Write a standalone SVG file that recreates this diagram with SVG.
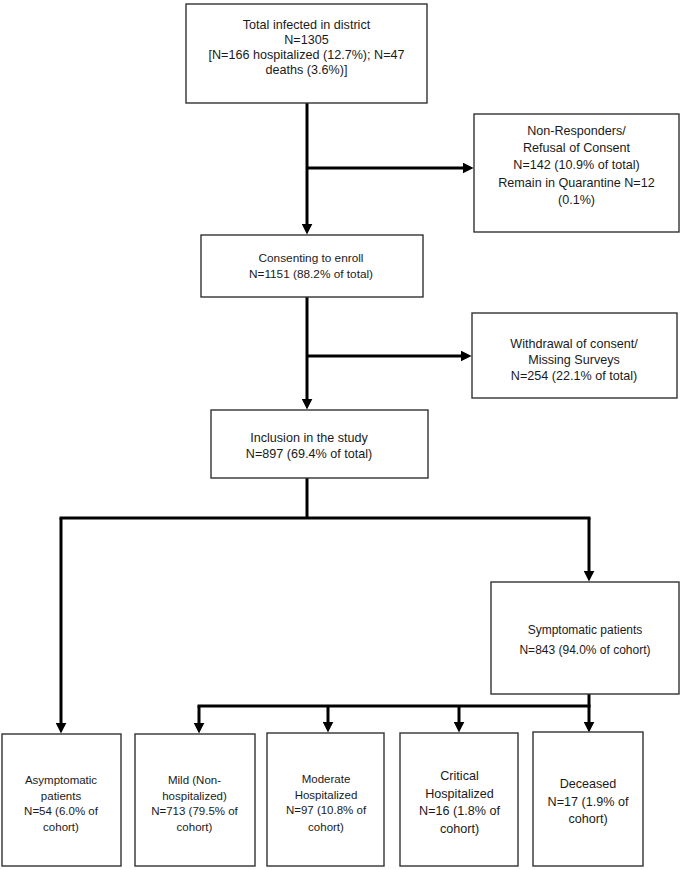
<svg xmlns="http://www.w3.org/2000/svg" width="680" height="870" viewBox="0 0 680 870">
<style>
.box{fill:#ffffff;stroke:#333333;stroke-width:1.4}
.t{font-family:"Liberation Sans",Arial,sans-serif;fill:#1a1a1a;text-anchor:middle;font-size:12.6px}
.s{font-size:11.5px}
.c{fill:none;stroke:#000000;stroke-width:3}
</style>
<defs>
<marker id="ah" viewBox="0 0 10 10" markerWidth="11" markerHeight="11" markerUnits="userSpaceOnUse" refX="4" refY="5" orient="auto">
<path d="M0,0 L10,5 L0,10 Z" fill="#000000"/>
</marker>
</defs>
<rect width="680" height="870" fill="#ffffff"/>
<g id="connectors">
<line class="c" x1="307" y1="103" x2="307" y2="228" marker-end="url(#ah)"/>
<line class="c" x1="307" y1="168" x2="467" y2="168" marker-end="url(#ah)"/>
<line class="c" x1="307" y1="297" x2="307" y2="403" marker-end="url(#ah)"/>
<line class="c" x1="307" y1="356" x2="465" y2="356" marker-end="url(#ah)"/>
<line class="c" x1="307" y1="478" x2="307" y2="518"/>
<line class="c" x1="59.5" y1="518" x2="590.5" y2="518"/>
<line class="c" x1="61" y1="518" x2="61" y2="727" marker-end="url(#ah)"/>
<line class="c" x1="589" y1="518" x2="589" y2="575" marker-end="url(#ah)"/>
<line class="c" x1="589" y1="694" x2="589" y2="726" marker-end="url(#ah)"/>
<line class="c" x1="197.5" y1="706" x2="590.5" y2="706"/>
<line class="c" x1="199" y1="706" x2="199" y2="727" marker-end="url(#ah)"/>
<line class="c" x1="328" y1="706" x2="328" y2="726" marker-end="url(#ah)"/>
<line class="c" x1="459" y1="706" x2="459" y2="726" marker-end="url(#ah)"/>
</g>
<g id="total">
<rect class="box" x="186" y="4" width="241" height="99"/>
<text class="t" x="306.5" y="28.5">Total infected in district</text>
<text class="t" x="306.5" y="43.5">N=1305</text>
<text class="t" x="306.5" y="58.5">[N=166 hospitalized (12.7%); N=47</text>
<text class="t" x="306.5" y="74">deaths (3.6%)]</text>
</g>
<g id="nonresponders">
<rect class="box" x="474" y="114" width="205" height="118"/>
<text class="t" x="576.5" y="134.5">Non-Responders/</text>
<text class="t" x="576.5" y="152">Refusal of Consent</text>
<text class="t" x="576.5" y="169.3">N=142 (10.9% of total)</text>
<text class="t" x="576.5" y="186.6">Remain in Quarantine N=12</text>
<text class="t" x="576.5" y="204">(0.1%)</text>
</g>
<g id="consenting">
<rect class="box" x="201" y="235" width="222" height="62"/>
<text class="t" x="311" y="262" style="font-size:11.8px">Consenting to enroll</text>
<text class="t" x="311" y="278" style="font-size:11.8px">N=1151 (88.2% of total)</text>
</g>
<g id="withdrawal">
<rect class="box" x="472" y="313" width="205" height="85"/>
<text class="t" x="574" y="347.5">Withdrawal of consent/</text>
<text class="t" x="574" y="363.5">Missing Surveys</text>
<text class="t" x="574" y="379.5">N=254 (22.1% of total)</text>
</g>
<g id="inclusion">
<rect class="box" x="211" y="410" width="217" height="68"/>
<text class="t" x="309" y="442">Inclusion in the study</text>
<text class="t" x="309" y="458">N=897 (69.4% of total)</text>
</g>
<g id="symptomatic">
<rect class="box" x="491" y="582" width="188" height="112"/>
<text class="t" x="585" y="634" style="font-size:12px">Symptomatic patients</text>
<text class="t" x="585" y="654" style="font-size:12px">N=843 (94.0% of cohort)</text>
</g>
<g id="asymptomatic">
<rect class="box" x="2" y="734" width="119" height="132"/>
<text class="t s" x="61" y="784">Asymptomatic</text>
<text class="t s" x="61" y="799.5">patients</text>
<text class="t s" x="61" y="815">N=54 (6.0% of</text>
<text class="t s" x="61" y="831">cohort)</text>
</g>
<g id="mild">
<rect class="box" x="135" y="734" width="120" height="132"/>
<text class="t s" x="194.5" y="784">Mild (Non-</text>
<text class="t s" x="194.5" y="799.5">hospitalized)</text>
<text class="t s" x="194.5" y="815">N=713 (79.5% of</text>
<text class="t s" x="194.5" y="831">cohort)</text>
</g>
<g id="moderate">
<rect class="box" x="267" y="733" width="117" height="133"/>
<text class="t s" x="326" y="783">Moderate</text>
<text class="t s" x="326" y="798.5">Hospitalized</text>
<text class="t s" x="326" y="814">N=97 (10.8% of</text>
<text class="t s" x="326" y="830.5">cohort)</text>
</g>
<g id="critical">
<rect class="box" x="400" y="733" width="118" height="133"/>
<text class="t" x="459.5" y="779.5">Critical</text>
<text class="t" x="459.5" y="797.5">Hospitalized</text>
<text class="t" x="459.5" y="815">N=16 (1.8% of</text>
<text class="t" x="459.5" y="832.5">cohort)</text>
</g>
<g id="deceased">
<rect class="box" x="533" y="732" width="110" height="134"/>
<text class="t" x="588" y="787.5">Deceased</text>
<text class="t" x="588" y="805.5">N=17 (1.9% of</text>
<text class="t" x="588" y="823">cohort)</text>
</g>
</svg>
